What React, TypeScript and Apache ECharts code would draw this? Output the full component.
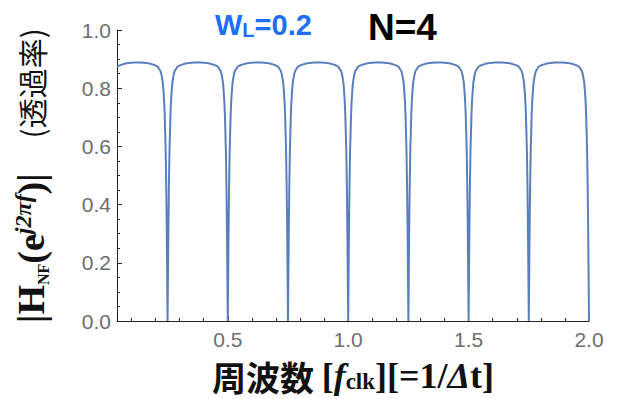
import React, { useEffect, useRef } from "react";
import * as echarts from "echarts";

// Notch centres (the curve dips to 0 at every multiple of 0.25)
const notchCenters = [0, 0.25, 0.5, 0.75, 1.0, 1.25, 1.5, 1.75, 2.0];
// One-sided dip profile: distance from notch centre -> |H|
const dipOffsets = [0, 0.001, 0.002, 0.003, 0.004, 0.005, 0.006, 0.008, 0.01, 0.012, 0.014, 0.017, 0.02, 0.025, 0.03, 0.035, 0.04, 0.05, 0.06, 0.075, 0.09, 0.11, 0.125];
const dipValues = [0, 0.1, 0.19, 0.28, 0.36, 0.43, 0.49, 0.59, 0.65, 0.71, 0.75, 0.79, 0.82, 0.845, 0.86, 0.866, 0.873, 0.878, 0.881, 0.885, 0.887, 0.888, 0.888];

const xMin = 0.04;
const xMax = 2.0;
const xMajorTicks = [0.5, 1.0, 1.5, 2.0];
const xMinorTicks = [0.1, 0.2, 0.3, 0.4, 0.6, 0.7, 0.8, 0.9, 1.1, 1.2, 1.3, 1.4, 1.6, 1.7, 1.8, 1.9];

function buildCurve(): [number, number][] {
  const pts: [number, number][] = [];
  for (const c of notchCenters) {
    for (let i = dipOffsets.length - 1; i > 0; i--) pts.push([c - dipOffsets[i], dipValues[i]]);
    for (let i = 0; i < dipOffsets.length; i++) pts.push([c + dipOffsets[i], dipValues[i]]);
  }
  return pts
    .filter((p) => p[0] >= xMin - 1e-9 && p[0] <= xMax + 1e-9)
    .sort((a, b) => a[0] - b[0]);
}

export default function App() {
  const ref = useRef<HTMLDivElement>(null);
  useEffect(() => {
    if (!ref.current) return;
    const chart = echarts.init(ref.current, null, { renderer: "svg" });
    const serif = "'Liberation Serif', 'Times New Roman', serif";
    const sans = "'Liberation Sans', Arial, sans-serif";
    const cjk = "'Noto Sans CJK JP', 'Noto Sans CJK SC', sans-serif";
    const axisColor = "#222";
    const labelColor = "#6e6e6e";
    chart.setOption({
      animation: false,
      backgroundColor: "#ffffff",
      grid: { left: 117, right: 33, top: 30, bottom: 78 },
      xAxis: [
        {
          type: "value",
          min: xMin,
          max: xMax,
          position: "bottom",
          axisLine: { show: true, onZero: false, lineStyle: { color: axisColor, width: 1 } },
          axisTick: { show: true, inside: true, length: 5, customValues: xMajorTicks, lineStyle: { color: axisColor } },
          axisLabel: {
            customValues: xMajorTicks,
            formatter: (v: number) => v.toFixed(1),
            color: labelColor,
            fontSize: 21,
            fontFamily: sans,
            margin: 7,
            lineHeight: 22,
          },
          splitLine: { show: false },
          name: "{c|周波数 }{t|[}{ti|f}{sb|clk}{t|][=1/}{ti|Δ}{t|t]}",
          nameLocation: "middle",
          nameGap: 38,
          nameTextStyle: {
            rich: {
              c: { fontFamily: cjk, fontWeight: "bold", fontSize: 34, color: "#111", lineHeight: 34 },
              t: { fontFamily: serif, fontWeight: "bold", fontSize: 36, color: "#111", lineHeight: 34 },
              ti: { fontFamily: serif, fontWeight: "bold", fontStyle: "italic", fontSize: 36, color: "#111", lineHeight: 34 },
              sb: { fontFamily: serif, fontWeight: "bold", fontSize: 23, color: "#111", lineHeight: 21, verticalAlign: "bottom" },
            },
          },
        },
        {
          type: "value",
          min: xMin,
          max: xMax,
          position: "bottom",
          axisLine: { show: false },
          axisTick: { show: true, inside: true, length: 3, customValues: xMinorTicks, lineStyle: { color: axisColor } },
          axisLabel: { show: false },
          splitLine: { show: false },
        },
      ],
      yAxis: {
        type: "value",
        min: 0,
        max: 1,
        interval: 0.2,
        axisLine: { show: true, lineStyle: { color: axisColor, width: 1 } },
        axisTick: { show: true, inside: true, length: 5, lineStyle: { color: axisColor } },
        minorTick: { show: true, splitNumber: 4, length: 3, lineStyle: { color: axisColor } },
        axisLabel: {
          formatter: (v: number) => v.toFixed(1),
          color: labelColor,
          fontSize: 21,
          fontFamily: sans,
          margin: 6,
        },
        splitLine: { show: false },
        name: "{b||H}{sb|NF}{b|(e}{sp|j2πf}{b|)|}{g|          }{k|(透過率)}",
        nameLocation: "middle",
        nameRotate: 90,
        nameGap: 66,
        nameTextStyle: {
          rich: {
            b: { fontFamily: serif, fontWeight: "bold", fontSize: 38, color: "#111", lineHeight: 40 },
            sb: { fontFamily: serif, fontWeight: "bold", fontSize: 16, color: "#111", lineHeight: 20, verticalAlign: "bottom" },
            sp: { fontFamily: serif, fontWeight: "bold", fontStyle: "italic", fontSize: 24, color: "#111", lineHeight: 22, verticalAlign: "top" },
            g: { fontFamily: serif, fontSize: 14, lineHeight: 40 },
            k: { fontFamily: cjk, fontSize: 30, color: "#111", lineHeight: 40 },
          },
        },
      },
      graphic: [
        {
          type: "text",
          x: 215,
          y: 25,
          style: {
            text: "{w|W}{l|L}{w|=0.2}",
            verticalAlign: "middle",
            align: "left",
            rich: {
              w: { fontFamily: sans, fontWeight: "bold", fontSize: 29, fill: "#1f6ff2", lineHeight: 30 },
              l: { fontFamily: sans, fontWeight: "bold", fontSize: 20, fill: "#1f6ff2", lineHeight: 22, verticalAlign: "bottom" },
            },
          },
        },
        {
          type: "text",
          x: 368,
          y: 27,
          style: {
            text: "N=4",
            verticalAlign: "middle",
            align: "left",
            fontFamily: sans,
            fontWeight: "bold",
            fontSize: 37,
            fill: "#000",
          },
        },
      ],
      series: [
        {
          type: "line",
          xAxisIndex: 0,
          data: buildCurve(),
          showSymbol: false,
          clip: true,
          lineStyle: { color: "#5b7fbd", width: 2 },
        },
      ],
    });
    return () => chart.dispose();
  }, []);
  return <div ref={ref} style={{ position: "fixed", left: 0, top: 0, width: 622, height: 399 }} />;
}
